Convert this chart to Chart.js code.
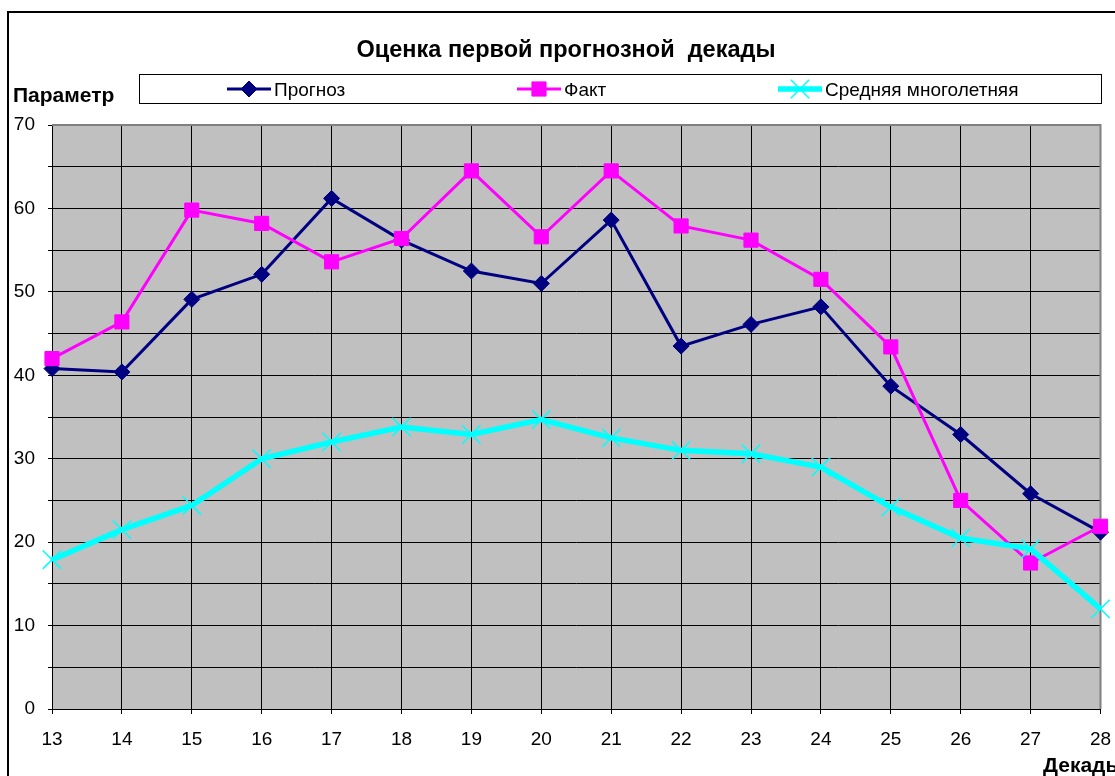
<!DOCTYPE html>
<html>
<head>
<meta charset="utf-8">
<script src="https://cdn.jsdelivr.net/npm/chart.js@4"></script>
<style>
  html, body { margin: 0; padding: 0; background: #fff; overflow: hidden; }
</style>
</head>
<body>
<canvas id="chart" width="1115" height="776"></canvas>
<script>
const decades = [13, 14, 15, 16, 17, 18, 19, 20, 21, 22, 23, 24, 25, 26, 27, 28]
const prognoz = [40.8, 40.4, 49.1, 52.1, 61.2, 56.2, 52.5, 51.0, 58.6, 43.5, 46.1, 48.2, 38.7, 32.9, 25.8, 21.2]
const fakt = [42.0, 46.4, 59.8, 58.2, 53.6, 56.4, 64.5, 56.6, 64.5, 57.9, 56.2, 51.5, 43.4, 25.0, 17.5, 21.9]
const srednyaya = [17.9, 21.5, 24.4, 30.0, 32.0, 33.8, 32.9, 34.7, 32.5, 31.0, 30.6, 29.0, 24.2, 20.5, 19.2, 12.0]
const seriesNames = ['Прогноз', 'Факт', 'Средняя многолетняя']
const titleText = 'Оценка первой прогнозной  декады'
const yTitle = 'Параметр'
const xTitle = 'Декады'

const FONT = '"Liberation Sans", Arial, sans-serif'

const toPoints = (vals) => vals.map((v, i) => ({ x: decades[i], y: v }))

// where the legend entries start (line sample start x)
const legendX = [227, 517, 778]

function marker(ctx, ds, x, y) {
  ctx.fillStyle = ds.pointBackgroundColor
  ctx.strokeStyle = ds.pointBorderColor
  ctx.lineWidth = ds.pointBorderWidth
  if (Chart.helpers && Chart.helpers.drawPoint) {
    Chart.helpers.drawPoint(ctx, {
      pointStyle: ds.pointStyle,
      radius: ds.pointRadius,
      rotation: 0,
      borderWidth: ds.pointBorderWidth,
    }, x, y)
  }
}

const decor = {
  id: 'decor',
  beforeDraw(chart) {
    const { ctx, chartArea: a } = chart
    ctx.save()
    ctx.fillStyle = '#fff'
    ctx.fillRect(0, 0, chart.width, chart.height)
    ctx.fillStyle = '#c0c0c0'
    ctx.fillRect(a.left, a.top, a.right - a.left, a.bottom - a.top)
    ctx.restore()
  },
  beforeDatasetsDraw(chart) {
    const { ctx, chartArea: a } = chart
    ctx.save()
    ctx.strokeStyle = '#808080'
    ctx.lineWidth = 2
    ctx.beginPath()
    ctx.moveTo(a.left, a.top)
    ctx.lineTo(a.right, a.top)
    ctx.lineTo(a.right, a.bottom)
    ctx.stroke()
    ctx.restore()
  },
  afterDraw(chart) {
    const { ctx } = chart
    ctx.save()
    // outer frame
    ctx.strokeStyle = '#000'
    ctx.lineWidth = 2
    ctx.beginPath()
    ctx.moveTo(8, chart.height + 2)
    ctx.lineTo(8, 12)
    ctx.lineTo(chart.width + 2, 12)
    ctx.stroke()

    ctx.fillStyle = '#000'
    ctx.textBaseline = 'alphabetic'
    ctx.textAlign = 'center'
    ctx.font = 'bold 23.5px ' + FONT
    ctx.fillText(titleText, 566, 57)

    ctx.textAlign = 'left'
    ctx.font = 'bold 21px ' + FONT
    ctx.fillText(yTitle, 13, 102)
    ctx.fillText(xTitle, 1043, 772)

    // legend box
    ctx.strokeStyle = '#000'
    ctx.lineWidth = 1
    ctx.strokeRect(139.5, 74.5, 962, 29)
    ctx.font = '19px ' + FONT
    chart.data.datasets.forEach((ds, i) => {
      const x0 = legendX[i]
      const y = 89
      ctx.strokeStyle = ds.borderColor
      ctx.lineWidth = ds.borderWidth
      ctx.beginPath()
      ctx.moveTo(x0, y)
      ctx.lineTo(x0 + 44, y)
      ctx.stroke()
      marker(ctx, ds, x0 + 22, y)
      ctx.fillStyle = '#000'
      ctx.fillText(ds.label, x0 + 47, 96)
    })
    ctx.restore()
  },
}

const data = {
  datasets: [
    {
      label: seriesNames[0],
      data: toPoints(prognoz),
      borderColor: '#000080',
      backgroundColor: '#000080',
      borderWidth: 3,
      pointStyle: 'rectRot',
      pointRadius: 8,
      pointBackgroundColor: '#000080',
      pointBorderColor: '#000080',
      pointBorderWidth: 1,
      order: 3,
    },
    {
      label: seriesNames[1],
      data: toPoints(fakt),
      borderColor: '#ff00ff',
      backgroundColor: '#ff00ff',
      borderWidth: 3,
      pointStyle: 'rect',
      pointRadius: 10,
      pointBackgroundColor: '#ff00ff',
      pointBorderColor: '#ff00ff',
      pointBorderWidth: 1,
      order: 2,
    },
    {
      label: seriesNames[2],
      data: toPoints(srednyaya),
      borderColor: '#00ffff',
      backgroundColor: '#00ffff',
      borderWidth: 5.5,
      pointStyle: 'crossRot',
      pointRadius: 13,
      pointBackgroundColor: '#00ffff',
      pointBorderColor: '#00ffff',
      pointBorderWidth: 1.5,
      order: 1,
    },
  ],
}

const config = {
  type: 'line',
  data: data,
  options: {
    responsive: false,
    animation: false,
    devicePixelRatio: 1,
    clip: false,
    layout: { padding: { top: 125, left: 0, right: 14, bottom: 0 } },
    plugins: {
      legend: { display: false },
      title: { display: false },
      tooltip: { enabled: false },
    },
    elements: { line: { tension: 0 } },
    scales: {
      x: {
        type: 'linear',
        min: 13,
        max: 28,
        afterFit(scale) {
          scale.height = 67
          scale.paddingLeft = 0
          scale.paddingRight = 0
        },
        afterBuildTicks(scale) { scale.ticks = decades.map(v => ({ value: v })) },
        grid: { color: '#000', lineWidth: 1, tickLength: 5 },
        border: { color: '#000', width: 1 },
        ticks: {
          color: '#000',
          font: { family: FONT, size: 19 },
          padding: 14,
          maxRotation: 0,
        },
      },
      y: {
        min: 0,
        max: 70,
        afterFit(scale) {
          scale.width = 52
          scale.paddingTop = 0
          scale.paddingBottom = 0
        },
        grid: { color: '#000', lineWidth: 1, tickLength: 4 },
        border: { color: '#000', width: 1 },
        ticks: {
          stepSize: 5,
          color: '#000',
          font: { family: FONT, size: 19 },
          padding: 13,
          callback: (v) => (v % 10 === 0 ? v : ''),
        },
      },
    },
  },
  plugins: [decor],
}

const chart = new Chart(document.getElementById('chart'), config)
</script>
</body>
</html>
